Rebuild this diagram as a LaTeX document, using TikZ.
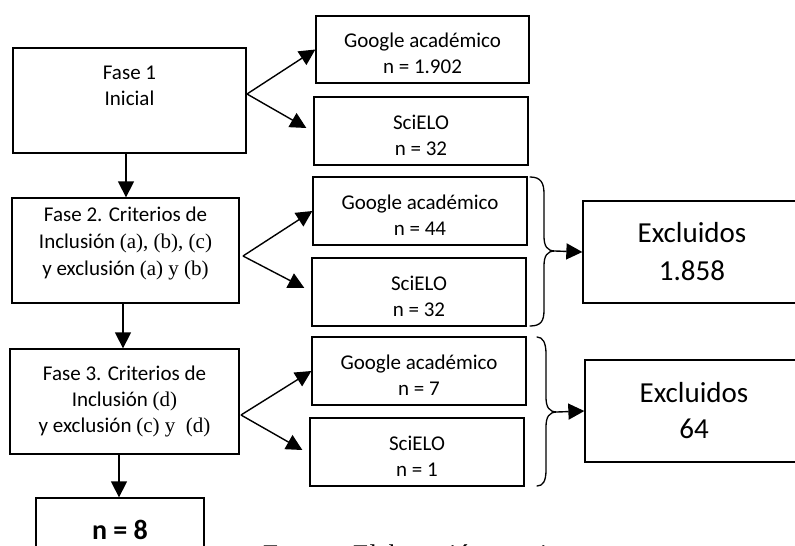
\documentclass[tikz,border=0pt]{standalone}
\usepackage{fontspec}
\setmainfont{Carlito}
\newfontfamily\serifpart{Liberation Serif}
\usetikzlibrary{arrows.meta}
\begin{document}
\begin{tikzpicture}[x=1pt,y=-1pt,
  box/.style={draw,line width=1.3pt,inner sep=0pt,align=center,font=\fontsize{21}{26}\selectfont},
  txt/.style={inner sep=0pt,align=center,font=\fontsize{21}{26}\selectfont},
  arr/.style={line width=1.4pt,-{Triangle[length=16pt,width=16pt]}},
  brace/.style={line width=1.3pt,line cap=round}]
\useasboundingbox (0,0) rectangle (795,546);
% phase boxes
\node[box,minimum width=233pt,minimum height=105pt] (f1) at (129.5,100.5) {};
\node[txt] (f1t) at (129.5,86) {Fase 1\\Inicial};
\node[box,minimum width=227pt,minimum height=105pt] (f2) at (125.5,250.5) {};
\node[txt,font=\fontsize{21}{27}\selectfont] (f2t) at (125.5,243) {Fase 2. Criterios de\\Inclusión {\serifpart(a), (b), (c)}\\y exclusión {\serifpart(a) y (b)}};
\node[box,minimum width=229pt,minimum height=105pt] (f3) at (124.5,401.5) {};
\node[txt] (f3t) at (124.5,401) {Fase 3. Criterios de\\Inclusión {\serifpart(d)}\\y exclusión {\serifpart(c) y\ \ (d)}};
\node[box,minimum width=168pt,minimum height=68pt] (n8) at (120,532) {};
\node[txt,font=\bfseries\fontsize{28}{32}\selectfont] (n8t) at (120,530) {n = 8};
% source boxes
\node[box,minimum width=213pt,minimum height=67pt] (g1) at (422.5,49.5) {};
\node[txt] (g1t) at ([yshift=-4pt]g1.center) {Google académico\\n = 1.902};
\node[box,minimum width=214pt,minimum height=68pt] (s1) at (421,131) {};
\node[txt] (s1t) at ([yshift=-4pt]s1.center) {SciELO\\n = 32};
\node[box,minimum width=214pt,minimum height=68pt] (g2) at (420,211) {};
\node[txt] (g2t) at ([yshift=-4pt]g2.center) {Google académico\\n = 44};
\node[box,minimum width=214pt,minimum height=68pt] (s2) at (419,292) {};
\node[txt] (s2t) at ([yshift=-4pt]s2.center) {SciELO\\n = 32};
\node[box,minimum width=214pt,minimum height=68pt] (g3) at (419,371) {};
\node[txt] (g3t) at ([yshift=-4pt]g3.center) {Google académico\\n = 7};
\node[box,minimum width=214pt,minimum height=68pt] (s3) at (417,452) {};
\node[txt] (s3t) at ([yshift=-4pt]s3.center) {SciELO\\n = 1};
% excluded boxes
\node[box,minimum width=218pt,minimum height=102pt,font=\fontsize{29}{38}\selectfont] (e1) at (692,252) {Excluidos\\1.858};
\node[box,minimum width=218pt,minimum height=102pt,font=\fontsize{29}{36}\selectfont] (e2) at (694,411) {Excluidos\\64};
% caption (cut off at the lower edge, as in the source)
\node[anchor=base west,inner sep=0pt,font=\serifpart\fontsize{27}{30}\selectfont] (src) at (263,563) {Fuente: Elaboración propia};
% fan-out arrows
\coordinate (a1) at (247,94);
\coordinate (a2) at (243,256);
\coordinate (a3) at (241,415);
\draw[arr] (a1) -- (g1.west);
\draw[arr] (a1) -- ([shift={(-7pt,3pt)}]s1.west);
\draw[arr] (a2) -- (g2.west);
\draw[arr] (a2) -- ([shift={(-7pt,4pt)}]s2.west);
\draw[arr] (a3) -- (g3.west);
\draw[arr] (a3) -- ([shift={(-7pt,2pt)}]s3.west);
% vertical arrows
\coordinate (v1) at (126,0);
\coordinate (v2) at (123,0);
\coordinate (v3) at (119,0);
\draw[arr] (f1.south -| v1) -- (f2.north -| v1);
\draw[arr] (f2.south -| v2) -- (f3.north -| v2);
\draw[arr] (f3.south -| v3) -- (n8.north -| v3);
% braces
\coordinate (b1) at (555,251);
\coordinate (b2) at (557,412);
\draw[brace] (530,177) .. controls (541,177) and (544,183) .. (544,194) -- (544,236)
  .. controls (544,246) and (547,251) .. (b1)
  .. controls (547,251) and (544,256) .. (544,266) -- (544,310)
  .. controls (544,321) and (541,326) .. (530,326);
\draw[brace] (537,337) .. controls (543,337) and (546,343) .. (546,354) -- (546,397)
  .. controls (546,407) and (549,412) .. (b2)
  .. controls (549,412) and (546,417) .. (546,427) -- (546,470)
  .. controls (546,481) and (543,486) .. (537,486);
\draw[arr] (b1) -- (e1.west);
\draw[arr] (b2) -- (e2.west);
\end{tikzpicture}
\end{document}
